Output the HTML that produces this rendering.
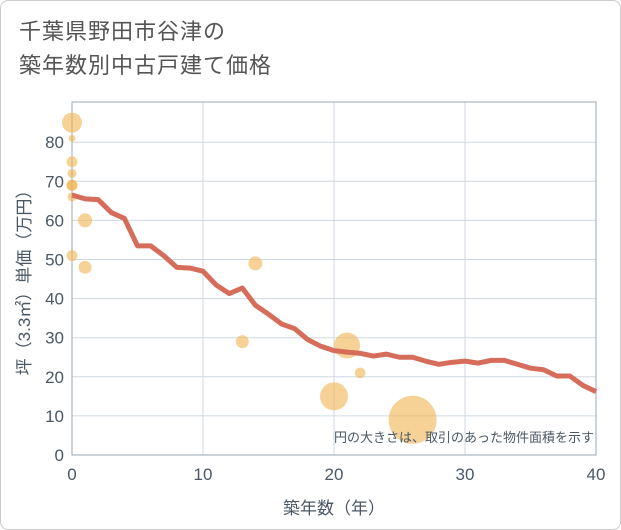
<!DOCTYPE html>
<html><head><meta charset="utf-8"><style>
body{margin:0;background:#fff;font-family:"Liberation Sans","Noto Sans CJK JP",sans-serif}
#wrap{position:absolute;left:0;top:0;width:619px;height:528px;border:1px solid #ccc;border-radius:8px;background:#fff}
#title{position:absolute;left:18px;top:14px;font-size:22px;line-height:34px;color:#555;letter-spacing:1px}
</style></head><body>
<div id="wrap">
<div id="title">千葉県野田市谷津の<br>築年数別中古戸建て価格</div>
<svg id="c" width="621" height="530" style="position:absolute;left:-1px;top:-1px"></svg>
</div>
<script>
const lineYears=[0,1,2,3,4,5,6,7,8,9,10,11,12,13,14,15,16,17,18,19,20,21,22,23,24,25,26,27,28,29,30,31,32,33,34,35,36,37,38,39,40];
const lineValues=[66.5,65.5,65.3,62,60.5,53.5,53.5,51,48,47.8,47,43.5,41.3,42.7,38.3,36,33.5,32.3,29.5,27.8,26.7,26.3,26,25.3,25.8,25,25,24,23.2,23.7,24,23.5,24.2,24.2,23.2,22.2,21.8,20.2,20.2,17.8,16.2];
const bubbleYears=[0,0,0,0,0,0,0,1,0,1,14,13,21,22,20,26];
const bubbleValues=[85,81,75,72,69,69,66,60,51,48,49,29,28,21,15,9];
const bubbleAreas=[100,12,30,20,30,30,20,49,30,42,49,42,169,28,196,576];
const xTicks=[0,10,20,30,40];
const yTicks=[0,10,20,30,40,50,60,70,80];
const NS="http://www.w3.org/2000/svg";
const svg=document.getElementById('c');
const L=72,R=596,B=455,T=102;
const xs=v=>L+(v/40)*(R-L);
const ys=v=>B-v*3.91;
function mk(t,a,p){const e=document.createElementNS(NS,t);for(const k in a)e.setAttribute(k,a[k]);(p||svg).appendChild(e);return e;}
for(const v of yTicks){
 const g=mk('line',{x1:L,x2:R,y1:ys(v),y2:ys(v),stroke:'#cfd9e3','stroke-width':1});
 
 
 const t=mk('text',{x:L-8,y:ys(v)+6,'text-anchor':'end','font-size':17,fill:'#4a5866'});
 t.textContent=v;
 
 
}
for(const v of xTicks){
 const g=mk('line',{x1:xs(v),x2:xs(v),y1:T,y2:B,stroke:'#cfd9e3','stroke-width':1});
 
 
 const t=mk('text',{x:xs(v),y:B+25,'text-anchor':'middle','font-size':17,fill:'#4a5866'});
 t.textContent=v;
 
 
}
const fr=mk('rect',{x:L,y:T,width:R-L,height:B-T,fill:'none',stroke:'#9aa8b5','stroke-width':1});


for(let i=0;i<bubbleYears.length;i++){
 const c=mk('circle',{cx:xs(bubbleYears[i]),cy:ys(bubbleValues[i]),r:Math.sqrt(bubbleAreas[i]),fill:'rgba(240,180,80,0.6)'});
 
 
}
const pts=lineYears.map((x,i)=>xs(x)+','+ys(lineValues[i])).join(' ');
const pl=mk('polyline',{points:pts,fill:'none',stroke:'#d66d5a','stroke-width':5,'stroke-linejoin':'round'});


const note=mk('text',{x:R-2,y:B-13,'text-anchor':'end','font-size':13,fill:'#4a5866'});
note.textContent='円の大きさは、取引のあった物件面積を示す';


const xt=mk('text',{x:(L+R)/2,y:514,'text-anchor':'middle','font-size':17,fill:'#4a5866'});
xt.textContent='築年数（年）';


const yt=mk('text',{x:0,y:0,'text-anchor':'middle','font-size':17,fill:'#4a5866',transform:`translate(30,${(T+B)/2}) rotate(-90)`});
yt.textContent='坪（3.3㎡）単価（万円）';


</script>
</body></html>
